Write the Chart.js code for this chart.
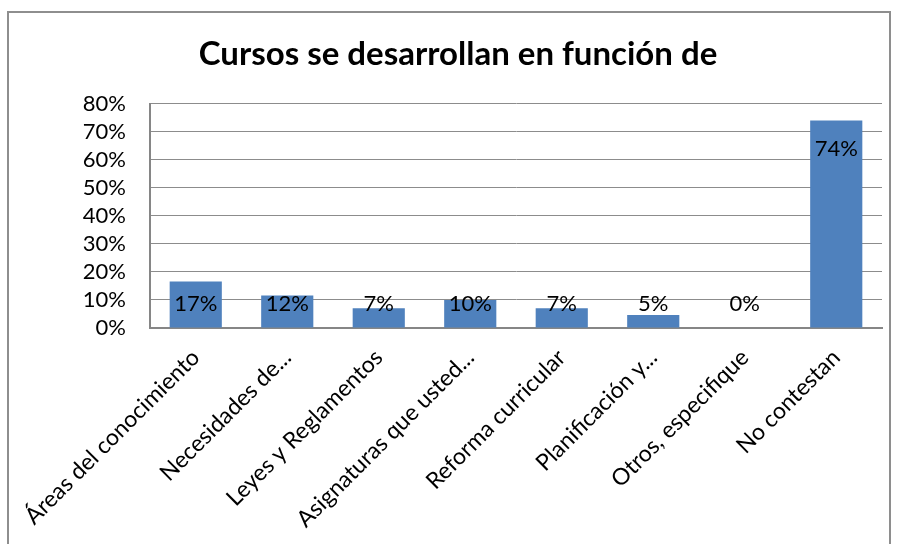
<!DOCTYPE html>
<html>
<head>
<meta charset="utf-8">
<script src="https://cdn.jsdelivr.net/npm/chart.js@4"></script>
<style>
  body { margin: 0; background: #fff; }
  #wrap { width: 897px; height: 544px; position: relative; }
</style>
</head>
<body>
<div id="wrap"><canvas id="bar-chart" width="897" height="544"></canvas></div>
<script>
// datos
var categorias = ["Áreas del conocimiento", "Necesidades de...", "Leyes y Reglamentos",
  "Asignaturas que usted...", "Reforma curricular", "Planificación y...",
  "Otros, especifique", "No contestan"];
var porcentajes = [0.166, 0.116, 0.07, 0.10, 0.07, 0.046, 0, 0.74];
var titulo = "Cursos se desarrollan en función de";

var fuente = "Lato, 'Open Sans', sans-serif";

// borde exterior del grafico
var borde = {
  id: 'borde',
  beforeDraw: function(chart) {
    var ctx = chart.ctx;
    ctx.save();
    ctx.fillStyle = '#fff';
    ctx.fillRect(0, 0, chart.width, chart.height);
    ctx.strokeStyle = '#8e8e8e';
    ctx.lineWidth = 2;
    ctx.strokeRect(8, 12, 882, 600);
    ctx.restore();
  }
};

// etiquetas de datos
var etiquetas = {
  id: 'etiquetas',
  afterDatasetsDraw: function(chart) {
    var ctx = chart.ctx;
    var meta = chart.getDatasetMeta(0);
    ctx.save();
    ctx.font = "22px " + fuente;
    ctx.fillStyle = '#000';
    ctx.textAlign = 'center';
    ctx.textBaseline = 'middle';
    meta.data.forEach(function(bar, i) {
      var y = Math.min(bar.y + 28, bar.base - 24);
      ctx.fillText(Math.round(porcentajes[i] * 100) + '%', bar.x, y);
    });
    ctx.restore();
  }
};

new Chart(document.getElementById("bar-chart"), {
  type: 'bar',
  data: {
    labels: categorias,
    datasets: [{
      data: porcentajes,
      backgroundColor: '#4f81bd',
      borderWidth: 0,
      barPercentage: 0.57,
      categoryPercentage: 1
    }]
  },
  options: {
    responsive: false,
    animation: false,
    layout: { padding: { left: 34, right: 15, top: 12, bottom: 0 } },
    plugins: {
      legend: { display: false },
      tooltip: { enabled: false },
      title: {
        display: true,
        text: titulo,
        color: '#000',
        font: { family: fuente, size: 33, weight: 'bold', lineHeight: 1.2 },
        padding: { top: 23, bottom: 29 }
      }
    },
    scales: {
      x: {
        grid: { display: false, drawTicks: false },
        border: { color: '#868686', width: 2 },
        ticks: {
          color: '#000',
          font: { family: fuente, size: 23 },
          minRotation: 45,
          maxRotation: 45,
          padding: 16,
          autoSkip: false
        },
        afterFit: function(s) { s.height = 216; }
      },
      y: {
        min: 0,
        max: 0.8,
        grid: { color: '#8c8c8c', lineWidth: 1, drawTicks: false },
        border: { color: '#868686', width: 2 },
        ticks: {
          stepSize: 0.1,
          autoSkip: false,
          color: '#000',
          padding: 24,
          font: { family: fuente, size: 22 },
          callback: function(v) { return Math.round(v * 100) + '%'; }
        },
        afterFit: function(s) { s.width = 116; }
      }
    }
  },
  plugins: [borde, etiquetas]
});
</script>
</body>
</html>
